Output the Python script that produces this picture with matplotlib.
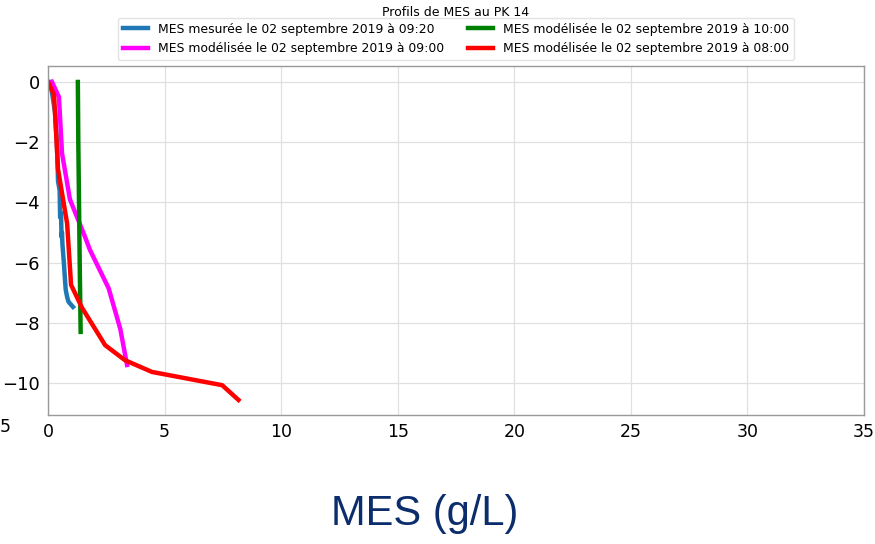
import matplotlib
matplotlib.use("Agg")
import matplotlib.pyplot as plt

# Data
mes_mesuree_0920_x = [0.10, 0.20, 0.30, 0.38, 0.42, 0.43, 0.50, 0.52, 0.56, 0.58, 0.60, 0.62, 0.68, 0.73, 0.76, 0.82, 0.88, 1.07]
mes_mesuree_0920_y = [0.0, -0.5, -1.0, -2.0, -3.0, -3.3, -3.6, -4.5, -4.35, -5.15, -5.0, -5.4, -6.0, -6.58, -6.9, -7.14, -7.3, -7.47]

mes_mod_0900_x = [0.17, 0.47, 0.60, 0.94, 1.59, 1.80, 2.60, 3.10, 3.39]
mes_mod_0900_y = [0.0, -0.5, -2.36, -3.9, -5.15, -5.58, -6.85, -8.2, -9.4]

mes_mod_1000_x = [1.28, 1.30, 1.33, 1.36, 1.40]
mes_mod_1000_y = [0.0, -2.0, -4.0, -6.0, -8.3]

mes_mod_0800_x = [0.0, 0.26, 0.43, 0.82, 0.99, 1.46, 2.45, 3.30, 4.46, 7.47, 8.17]
mes_mod_0800_y = [0.0, -0.43, -2.9, -4.7, -6.74, -7.5, -8.74, -9.24, -9.63, -10.07, -10.56]

labels = [
    "MES mesurée le 02 septembre 2019 à 09:20",
    "MES modélisée le 02 septembre 2019 à 09:00",
    "MES modélisée le 02 septembre 2019 à 10:00",
    "MES modélisée le 02 septembre 2019 à 08:00",
]
colors = ["#1f77b4", "#ff00ff", "#008000", "#ff0000"]
xticks = [0, 5, 10, 15, 20, 25, 30, 35]
yticks = [0, -2, -4, -6, -8, -10]

fig = plt.figure(figsize=(8.75, 5.44), dpi=100)
ax = fig.add_axes([48 / 875, 1 - 415 / 544, (864 - 48) / 875, (415 - 66) / 544])

series = [
    (mes_mesuree_0920_x, mes_mesuree_0920_y),
    (mes_mod_0900_x, mes_mod_0900_y),
    (mes_mod_1000_x, mes_mod_1000_y),
    (mes_mod_0800_x, mes_mod_0800_y),
]
for (xs, ys), lab, c in zip(series, labels, colors):
    ax.plot(xs, ys, color=c, lw=3.2, label=lab)

ax.set_xlim(0, 35)
ax.set_ylim(-11.06, 0.53)
ax.set_xticks(xticks)
ax.set_yticks(yticks)
ax.set_yticklabels([f"{v}".replace("-", "\u2212") for v in yticks], fontsize=13)
ax.set_xticklabels([str(v) for v in xticks], fontsize=12.5)
ax.tick_params(length=0, pad=6)
ax.grid(True, color="#e0e0e0", lw=0.9)
ax.set_axisbelow(True)
for s in ax.spines.values():
    s.set_color("#999999")
    s.set_linewidth(1.0)

leg = ax.legend(loc="lower center", bbox_to_anchor=(0.5, 1.0), ncol=2, fontsize=8.9,
                frameon=True, handlelength=2.0)
leg.get_frame().set_edgecolor("#dddddd")

fig.text(456 / 875, 1 - 12 / 544, "Profils de MES au PK 14", ha="center", va="center", fontsize=9)
fig.text(5 / 875, 1 - 427 / 544, "5", ha="center", va="center", fontsize=12.5)

fig.text(425 / 875, 1 - 514 / 544, "MES (g/L)", ha="center", va="center", fontsize=30,
         color="#0b2d6b", family=["Liberation Sans", "DejaVu Sans"])

fig.savefig("out.png", dpi=100)
